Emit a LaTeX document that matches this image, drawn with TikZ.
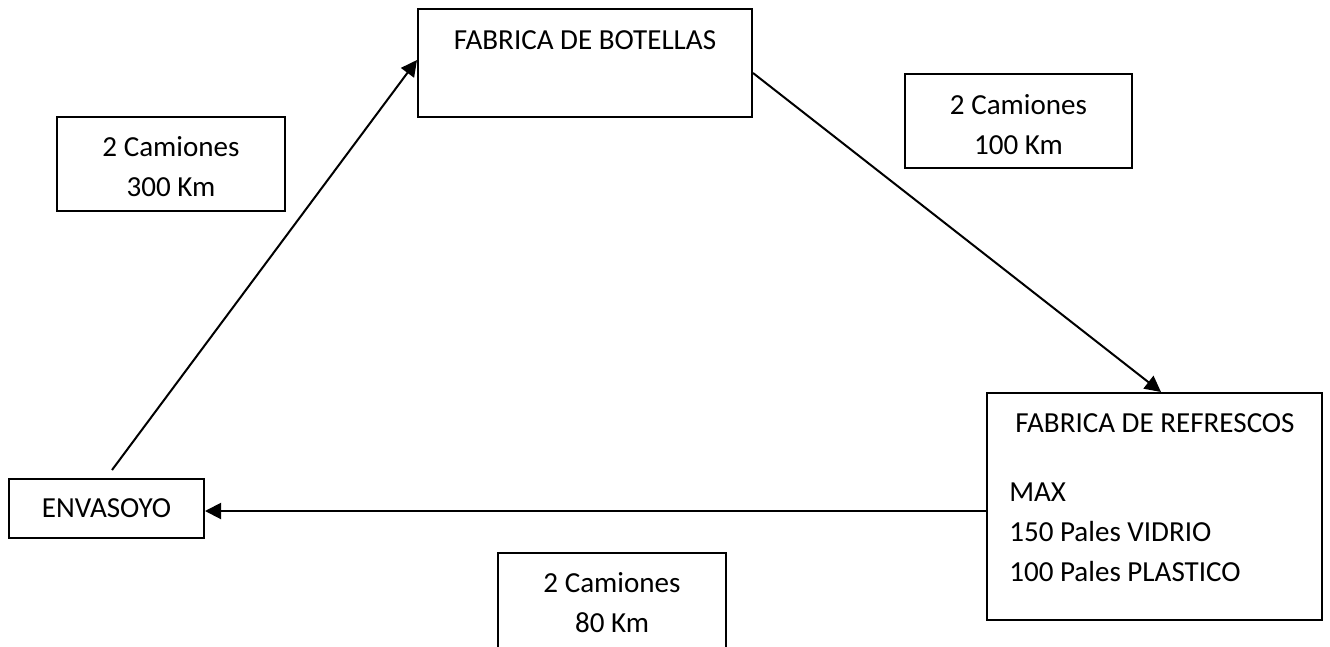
\documentclass[tikz,border=0pt]{standalone}
\usepackage{fontspec}
\setmainfont{Carlito}
\usetikzlibrary{arrows.meta,calc}
\begin{document}
\begin{tikzpicture}[x=0.75pt,y=-0.75pt,
  every node/.style={font=\fontsize{21.8}{30}\selectfont},
  boxnode/.style={draw,line width=1.5pt,inner sep=0pt},
  txt/.style={inner sep=0pt,align=center},
  conn/.style={line width=1.5pt,-{Triangle[length=12pt,width=12pt]}}]
\useasboundingbox (0,0) rectangle (1330,646);
% main boxes
\node[boxnode,minimum width=334*0.75pt,minimum height=108*0.75pt] (bot) at (585,63) {};
\node[txt] (bottxt) at (585,40) {FABRICA DE BOTELLAS};
\node[boxnode,minimum width=335*0.75pt,minimum height=227*0.75pt] (ref) at (1154.5,506.5) {};
\node[txt] (reftxt) at (1155,423) {FABRICA DE REFRESCOS};
\node[txt,align=left,anchor=west] (refmax) at (1009,532) {MAX\\150 Pales VIDRIO\\100 Pales PLASTICO};
\node[boxnode,minimum width=195*0.75pt,minimum height=59*0.75pt] (env) at (106.5,508.5) {};
\node[txt] (envtxt) at (106.5,508.5) {ENVASOYO};
% label boxes
\node[boxnode,minimum width=228*0.75pt,minimum height=94*0.75pt] (l300) at (171,164) {};
\node[txt] (l300t) at (171,167) {2 Camiones\\300 Km};
\node[boxnode,minimum width=227*0.75pt,minimum height=94*0.75pt] (l100) at (1018.5,121) {};
\node[txt] (l100t) at (1018.5,125) {2 Camiones\\100 Km};
\node[boxnode,minimum width=228*0.75pt,minimum height=96*0.75pt] (l80) at (612,601) {};
\node[txt] (l80t) at (612,602.5) {2 Camiones\\80 Km};
% connectors
\draw[conn] ($(env.north)+(5.5,-8)$) -- ($(bot.west)+(0,-3)$);
\draw[conn] ($(bot.east)+(0,10)$) -- ($(ref.north)+(6.5,0)$);
\coordinate (hstart) at ($(ref.west)+(0,4.5)$);
\draw[conn] (hstart) -- (env.east |- hstart);
\end{tikzpicture}
\end{document}
